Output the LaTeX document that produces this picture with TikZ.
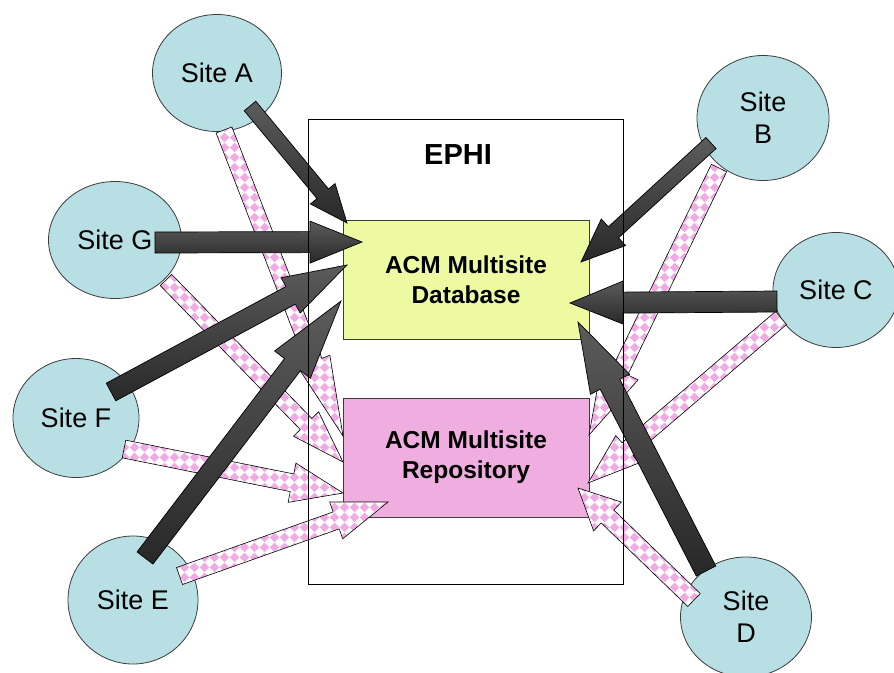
\documentclass[tikz,border=0pt]{standalone}
\usepackage{fontspec}
\setmainfont{Liberation Sans}
\usetikzlibrary{calc,shapes.geometric,patterns}
\pgfdeclarepatternformonly{pinkdiamonds}{\pgfqpoint{0pt}{0pt}}{\pgfqpoint{10pt}{10pt}}{\pgfqpoint{10pt}{10pt}}{%
  \pgfpathmoveto{\pgfqpoint{5pt}{-0.2pt}}%
  \pgfpathlineto{\pgfqpoint{10.2pt}{5pt}}%
  \pgfpathlineto{\pgfqpoint{5pt}{10.2pt}}%
  \pgfpathlineto{\pgfqpoint{-0.2pt}{5pt}}%
  \pgfpathclose\pgfusepath{fill}}
\definecolor{siteblue}{RGB}{184,223,227}
\definecolor{dbyellow}{RGB}{238,250,162}
\definecolor{repopink}{RGB}{240,174,224}
\definecolor{diapink}{RGB}{240,172,226}
\definecolor{edgegray}{RGB}{60,60,60}
\definecolor{darklight}{RGB}{92,92,92}
\definecolor{darkdeep}{RGB}{40,40,40}
% #1 style, #2 tail, #3 tip, #4 half shaft, #5 half head, #6 head length
\newcommand\blockarrow[6]{%
  \coordinate (ba base) at ($(#3)!#6!(#2)$);
  \path[#1] ($(#2)!#4!90:(#3)$) -- ($(ba base)!#4!90:(#3)$) -- ($(ba base)!#5!90:(#3)$)
    -- (#3) -- ($(ba base)!#5!-90:(#3)$) -- ($(ba base)!#4!-90:(#3)$) -- ($(#2)!#4!-90:(#3)$) -- cycle;
}
\begin{document}
\begin{tikzpicture}[x=1pt,y=-1pt,
  site/.style={ellipse, draw=edgegray, line width=0.8pt, fill=siteblue, inner sep=0pt,
    align=center, font=\fontsize{27}{32}\selectfont},
  boxlabel/.style={rectangle, draw=edgegray, line width=0.8pt, inner sep=0pt, align=center,
    minimum width=246pt, minimum height=119pt, font=\bfseries\fontsize{24.5}{30}\selectfont},
  darkarrow/.style={draw=black, line width=0.7pt, top color=darklight, bottom color=darkdeep},
  pinkarrow/.style={draw=black, line width=0.6pt, preaction={fill=white}, pattern=pinkdiamonds, pattern color=diapink},
  ]
\useasboundingbox (0,0) rectangle (894,672);
\fill[white] (0,0) rectangle (894,672);

% EPHI container (border drawn on top later)
\node[rectangle, fill=white, minimum width=314pt, minimum height=464pt, inner sep=0pt] (ephi) at (466,352) {};
\node[font=\bfseries\fontsize{29}{34}\selectfont] (ephilabel) at (458,155) {EPHI};

% sites
\node[site, minimum width=129pt, minimum height=117pt] (siteA) at (217,73) {Site A};
\node[site, minimum width=132pt, minimum height=125pt] (siteB) at (763,118) {Site\\B};
\node[site, minimum width=126pt, minimum height=115pt] (siteC) at (836,290) {Site C};
\node[site, minimum width=133pt, minimum height=117pt] (siteG) at (115,240) {Site G};
\node[site, minimum width=126pt, minimum height=119pt] (siteF) at (76,418) {Site F};
\node[site, minimum width=130pt, minimum height=128pt] (siteE) at (133,600) {Site E};
\node[site, minimum width=131pt, minimum height=120pt] (siteD) at (746,617) {Site\\D};

% inner boxes
\node[boxlabel, fill=dbyellow] (db) at (466,280) {ACM Multisite\\Database};
\node[boxlabel, fill=repopink] (repo) at (466,457.5) {ACM Multisite\\Repository};

% connector end points
\coordinate (pAt) at (224,130);   \coordinate (pAp) at (343,436);
\coordinate (pGt) at (166,280);   \coordinate (pGp) at (343,462);
\coordinate (pFt) at (124,449);   \coordinate (pFp) at (343,493);
\coordinate (pEt) at (179.5,576); \coordinate (pEp) at (388,502);
\coordinate (pBt) at (719,168);   \coordinate (pBp) at (589,435);
\coordinate (pCt) at (781,318);   \coordinate (pCp) at (588,483);
\coordinate (pDt) at (694,600);   \coordinate (pDp) at (578,488);

\coordinate (dAt) at (250,106);   \coordinate (dAp) at (347,223);
\coordinate (dGt) at (155,242.5); \coordinate (dGp) at (362,242);
\coordinate (dFt) at (111,392);   \coordinate (dFp) at (347,265);
\coordinate (dEt) at (145,558);   \coordinate (dEp) at (341,301);
\coordinate (dBt) at (711,143);   \coordinate (dBp) at (581,262);
\coordinate (dCt) at (777,301.5); \coordinate (dCp) at (570,303);
\coordinate (dDt) at (706,571);   \coordinate (dDp) at (578,322);

% pink checkered arrows to the repository
\blockarrow{pinkarrow}{pAt}{pAp}{8.5pt}{17pt}{80pt}
\blockarrow{pinkarrow}{pGt}{pGp}{8pt}{17.5pt}{53pt}
\blockarrow{pinkarrow}{pFt}{pFp}{9pt}{20pt}{52pt}
\blockarrow{pinkarrow}{pEt}{pEp}{9pt}{19.5pt}{55pt}
\blockarrow{pinkarrow}{pBt}{pBp}{8.5pt}{20pt}{71pt}
\blockarrow{pinkarrow}{pCt}{pCp}{8.5pt}{18pt}{52pt}
\blockarrow{pinkarrow}{pDt}{pDp}{9pt}{20pt}{41pt}

% dark arrows to the database
\blockarrow{darkarrow}{dAt}{dAp}{7.5pt}{16pt}{38pt}
\blockarrow{darkarrow}{dGt}{dGp}{10.5pt}{21pt}{52pt}
\blockarrow{darkarrow}{dFt}{dFp}{10pt}{20pt}{64pt}
\blockarrow{darkarrow}{dEt}{dEp}{10pt}{22.5pt}{80pt}
\blockarrow{darkarrow}{dBt}{dBp}{7.5pt}{18pt}{44pt}
\blockarrow{darkarrow}{dCt}{dCp}{10.5pt}{21.5pt}{53pt}
\blockarrow{darkarrow}{dDt}{dDp}{11pt}{22pt}{70pt}

% EPHI border on top
\draw[black, line width=0.8pt] (ephi.north west) rectangle (ephi.south east);
\end{tikzpicture}
\end{document}
